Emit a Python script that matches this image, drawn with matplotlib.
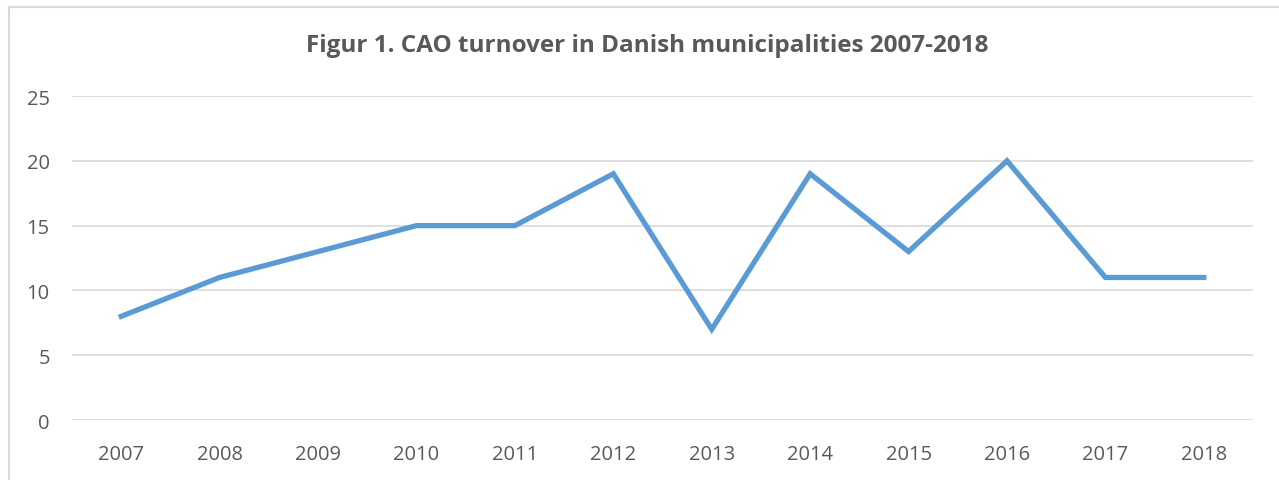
import matplotlib.pyplot as plt
from matplotlib.patches import Rectangle

years = ['2007', '2008', '2009', '2010', '2011', '2012',
         '2013', '2014', '2015', '2016', '2017', '2018']
turnover = [8, 11, 13, 15, 15, 19, 7, 19, 13, 20, 11, 11]
yticks = [0, 5, 10, 15, 20, 25]

plt.rcParams['font.family'] = ['Open Sans', 'DejaVu Sans']

fg = plt.figure(figsize=(12.79, 4.81), dpi=100)
ax = fg.add_axes([0.0563, 0.1247, 0.9234, 0.6736])

ax.plot(range(len(years)), turnover, color='#5B9BD5', lw=3.8,
        solid_joinstyle='miter', zorder=3)

ax.set_xlim(-0.5, len(years) - 0.5)
ax.set_ylim(0, 25)
ax.set_yticks(yticks)
ax.set_xticks(range(len(years)))
ax.set_xticklabels(years)
ax.grid(axis='y', color='#D9D9D9', lw=1.2)
ax.set_axisbelow(True)
for s in ax.spines.values():
    s.set_visible(False)
ax.tick_params(length=0, labelsize=14.5, colors='#595959')
ax.tick_params(axis='x', pad=17)
ax.tick_params(axis='y', pad=16)

fg.text(0.506, 0.905, 'Figur 1. CAO turnover in Danish municipalities 2007-2018',
        ha='center', va='center', fontsize=17.5, fontweight='bold', color='#595959')

fg.patches.append(Rectangle((9 / 1279, -0.1), 1.2, 1.1 - 8 / 481,
                            transform=fg.transFigure, fill=False,
                            ec='#D9D9D9', lw=1.5))

fg.savefig('out.png', dpi=100)
